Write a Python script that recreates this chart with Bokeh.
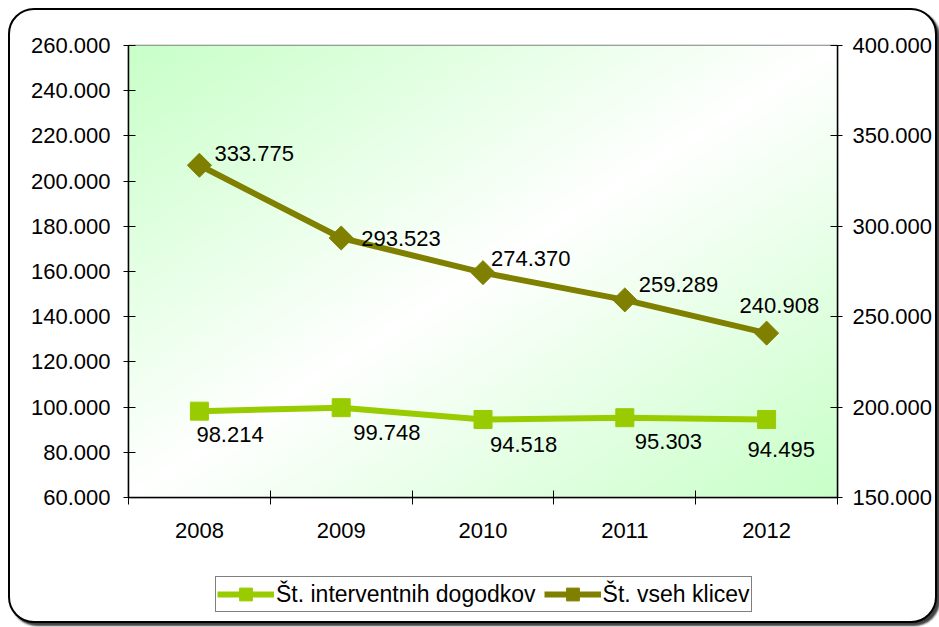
import numpy as np
from bokeh.plotting import figure
from bokeh.layouts import column
from bokeh.models import (Range1d, LinearAxis, FixedTicker, ColumnDataSource,
                          Legend, LegendItem)
from bokeh.embed import file_html
from bokeh.resources import INLINE
from bokeh.core.properties import value

# ---- data ----
years = ["2008", "2009", "2010", "2011", "2012"]
interventions = [98214, 99748, 94518, 95303, 94495]
all_calls = [333775, 293523, 274370, 259289, 240908]
left_ticks = [60000, 80000, 100000, 120000, 140000, 160000, 180000, 200000,
              220000, 240000, 260000]
right_ticks = [150000, 200000, 250000, 300000, 350000, 400000]
name_interventions = "Št. interventnih dogodkov"
name_calls = "Št. vseh klicev"


def fmt(v):
    return f"{v:,}".replace(",", ".")


FONT = "Liberation Sans"
GREEN = "#99cc00"
OLIVE = "#808000"

xs = list(range(1, len(years) + 1))
bounds = [i + 0.5 for i in range(len(years) + 1)]

p = figure(width=925, height=540, output_backend="svg", toolbar_location=None,
           x_range=Range1d(0.5, len(years) + 0.5),
           y_range=Range1d(left_ticks[0], left_ticks[-1]),
           min_border_left=118, min_border_right=93, min_border_top=35,
           min_border_bottom=53)
p.extra_y_ranges = {"right": Range1d(right_ticks[0], right_ticks[-1])}
p.xgrid.grid_line_color = None
p.ygrid.grid_line_color = None
p.outline_line_color = "#808080"
p.outline_line_width = 1.5
p.border_fill_color = None

# gradient background of the plot area
n = 200
u = np.linspace(0, 1, n)[None, :]
v = np.linspace(0, 1, n)[:, None]
t = (u + (1 - v)) / 2.0
f = np.abs(2 * t - 1)
img = np.empty((n, n), dtype=np.uint32)
view = img.view(dtype=np.uint8).reshape((n, n, 4))
rb = (255 - (255 - 200) * f).astype(np.uint8)
view[..., 0] = rb
view[..., 1] = 255
view[..., 2] = rb
view[..., 3] = 255
p.image_rgba(image=[img], x=0.5, y=left_ticks[0], dw=len(years),
             dh=left_ticks[-1] - left_ticks[0])

src = ColumnDataSource(dict(
    x=xs, inter=interventions, calls=all_calls,
    inter_lbl=[fmt(a) for a in interventions],
    calls_lbl=[fmt(a) for a in all_calls],
    inter_dx=[-3, 12, 7, 10, -19], inter_dy=[23, 25, 25, 24, 30],
    calls_dx=[15, 20, 8, 14, -27], calls_dy=[-12, 0, -14, -15, -28],
))

line1 = dict(line_color=GREEN, line_width=6)
mark1 = dict(marker="square", size=18, fill_color=GREEN, line_color=GREEN)
line2 = dict(line_color=OLIVE, line_width=6)
mark2 = dict(marker="square", angle=np.pi / 4, size=17, fill_color=OLIVE,
             line_color=OLIVE)

p.line('x', 'inter', source=src, **line1)
p.scatter('x', 'inter', source=src, **mark1)
p.line('x', 'calls', source=src, y_range_name="right", **line2)
p.scatter('x', 'calls', source=src, y_range_name="right", **mark2)

p.text('x', 'inter', text='inter_lbl', source=src, x_offset='inter_dx',
       y_offset='inter_dy', text_align="left", text_baseline="middle",
       text_font=value(FONT), text_font_size="22px", text_color="black")
p.text('x', 'calls', text='calls_lbl', source=src, y_range_name="right",
       x_offset='calls_dx', y_offset='calls_dy', text_align="left",
       text_baseline="middle", text_font=value(FONT), text_font_size="22px",
       text_color="black")

# axes
xa = p.xaxis[0]
xa.ticker = FixedTicker(ticks=xs, minor_ticks=bounds)
xa.major_label_overrides = {x: y for x, y in zip(xs, years)}
xa.major_tick_in = 0
xa.major_tick_out = 0
xa.minor_tick_in = 7
xa.minor_tick_out = 7
xa.minor_tick_line_color = "black"
xa.major_label_standoff = 18

ya = p.yaxis[0]
ya.ticker = FixedTicker(ticks=left_ticks)
ya.major_label_overrides = {t_: fmt(t_) for t_ in left_ticks}
ya.major_tick_in = 7
ya.major_tick_out = 5
ya.minor_tick_line_color = None
ya.major_label_standoff = 13

ra = LinearAxis(y_range_name="right", ticker=FixedTicker(ticks=right_ticks))
ra.major_label_overrides = {t_: fmt(t_) for t_ in right_ticks}
ra.major_tick_in = 7
ra.major_tick_out = 5
ra.minor_tick_line_color = None
ra.major_label_standoff = 10
p.add_layout(ra, "right")

for ax in (xa, ya, ra):
    ax.axis_line_color = "black"
    ax.axis_line_width = 1.5
    ax.major_tick_line_color = "black"
    ax.major_label_text_font = FONT
    ax.major_label_text_font_size = "22px"
    ax.major_label_text_color = "black"

# legend strip below the chart (its series lie outside its view, only the
# legend itself is seen)
q = figure(width=925, height=71, output_backend="svg", toolbar_location=None,
           x_axis_type=None, y_axis_type=None, min_border=0,
           x_range=Range1d(-2, -1), y_range=Range1d(-2, -1))
q.outline_line_color = None
q.background_fill_color = None
q.border_fill_color = None
q.grid.visible = False
g1 = [q.line('x', 'inter', source=src, **line1),
      q.scatter('x', 'inter', source=src, **mark1)]
g2 = [q.line('x', 'calls', source=src, **line2),
      q.scatter('x', 'calls', source=src, **mark2)]
legend = Legend(items=[LegendItem(label=name_interventions, renderers=g1),
                       LegendItem(label=name_calls, renderers=g2)],
                orientation="horizontal", location=(87, 9),
                label_text_font=FONT, label_text_font_size="23px",
                label_text_color="black", glyph_width=57, glyph_height=32,
                label_standoff=2, spacing=8, padding=1, margin=0,
                border_line_color="black", border_line_width=1,
                background_fill_color="white", background_fill_alpha=1)
q.add_layout(legend, "center")

layout = column(p, q, spacing=0,
                styles={"margin": "8px 0 0 8px",
                        "border": "2px solid black",
                        "border-radius": "26px",
                        "background-color": "white",
                        "box-shadow": "3px 3px 2px rgba(0,0,0,0.75)"})

open("out.html", "w").write(file_html(layout, INLINE))
